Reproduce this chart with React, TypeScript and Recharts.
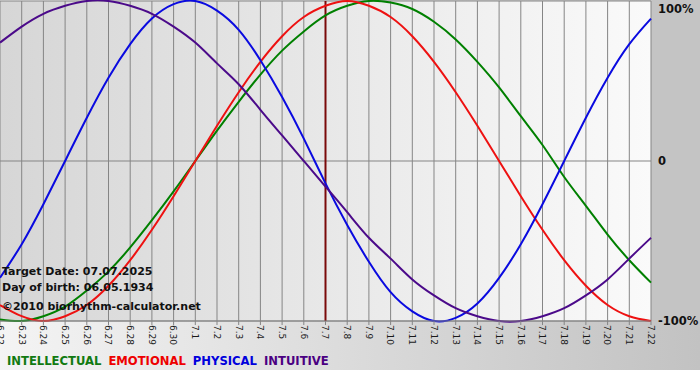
import React from "react";
import { LineChart, Line, XAxis, YAxis, CartesianGrid, ReferenceLine } from "recharts";

const days = ["6.22","6.23","6.24","6.25","6.26","6.27","6.28","6.29","6.30","7.1","7.2","7.3","7.4","7.5","7.6","7.7","7.8","7.9","7.10","7.11","7.12","7.13","7.14","7.15","7.16","7.17","7.18","7.19","7.20","7.21","7.22"];
const intellectual = [-99,-100,-97,-91,-81,-69,-54,-37,-19,0,19,37,54,69,81,91,97,100,99,95,87,76,62,46,28,10,-10,-28,-46,-62,-76];
const emotional = [-90,-97,-100,-97,-90,-78,-62,-43,-22,0,22,43,62,78,90,97,100,97,90,78,62,43,22,0,-22,-43,-62,-78,-90,-97,-100];
const physical = [-73,-52,-27,0,27,52,73,89,98,100,94,82,63,40,14,-14,-40,-63,-82,-94,-100,-98,-89,-73,-52,-27,0,27,52,73,89];
const intuitive = [74,84,92,97,100,100,97,92,84,74,61,48,32,16,0,-16,-32,-48,-61,-74,-84,-92,-97,-100,-100,-97,-92,-84,-74,-61,-48];
const yTicks = [-100, 0, 100];
const yTickLabels: Record<number, string> = { 100: "100%", 0: "0", [-100]: "-100%" };
const targetDay = "7.7";
const infoLines = ["Target Date: 07.07.2025", "Day of birth: 06.05.1934"];
const copyright = "©2010 biorhythm-calculator.net";

const series = [
  { key: "intellectual", name: "INTELLECTUAL", color: "#008000", legend: "#117a11" },
  { key: "emotional", name: "EMOTIONAL", color: "#ee1111", legend: "#ee0000" },
  { key: "physical", name: "PHYSICAL", color: "#0a0ae0", legend: "#0000dd" },
  { key: "intuitive", name: "INTUITIVE", color: "#4b0a8a", legend: "#4b0082" },
];

const data = days.map((d, i) => ({
  day: d,
  intellectual: intellectual[i],
  emotional: emotional[i],
  physical: physical[i],
  intuitive: intuitive[i],
}));

const FONT = "'DejaVu Sans', Verdana, sans-serif";

const XTick = (props: any) => {
  const { x, y, payload } = props;
  return (
    <g transform={`translate(${x},${y})`}>
      <text transform="rotate(90)" x={0} y={0} dy="0.35em" textAnchor="start"
        fontFamily={FONT} fontSize={9} fill="#1a1a1a">{payload.value}</text>
    </g>
  );
};

const YTick = (props: any) => {
  const { x, y, payload } = props;
  const yy = Math.max(y, 8);
  return (
    <text x={x} y={yy} dy="0.36em" textAnchor="start" fontFamily={FONT}
      fontWeight="bold" fontSize={11.5} fill="#111">{yTickLabels[payload.value]}</text>
  );
};

export default function App() {
  return (
    <div style={{ position: "absolute", left: 0, top: 0, width: 700, height: 370,
      background: "linear-gradient(to right, #f4f4f4, #c2c2c2)" }}>
      <div style={{ position: "absolute", left: 651, top: 0, width: 49, height: 321, background: "#c4c4c4" }} />
      <div style={{ position: "absolute", left: 0, top: 0 }}>
        <LineChart width={700} height={370} data={data}
          margin={{ top: 1, right: 0, left: 0, bottom: 0 }}>
          <defs>
            <linearGradient id="plotBg" x1="0" y1="0" x2="1" y2="0">
              <stop offset="0%" stopColor="#d6d6d6" />
              <stop offset="100%" stopColor="#fafafa" />
            </linearGradient>
          </defs>
          <CartesianGrid stroke="#858585" strokeWidth={1} fill="url(#plotBg)" fillOpacity={1} />
          <XAxis dataKey="day" interval={0} height={49} tick={<XTick />}
            tickSize={4} tickMargin={0} stroke="#858585" tickLine={{ stroke: "#858585" }} />
          <YAxis orientation="right" domain={[-100, 100]} ticks={yTicks} width={49}
            axisLine={false} tickLine={false} tickSize={0} tickMargin={7} tick={<YTick />} />
          <ReferenceLine x={targetDay} stroke="#7a0a0a" strokeWidth={2} />
          {series.map((s) => (
            <Line key={s.key} dataKey={s.key} type="natural" stroke={s.color}
              strokeWidth={2} dot={false} isAnimationActive={false} />
          ))}
        </LineChart>
      </div>
      <div style={{ position: "absolute", left: 2, top: 264, fontFamily: FONT, fontWeight: "bold",
        fontSize: 11, color: "#111", lineHeight: "16px", whiteSpace: "nowrap" }}>
        {infoLines.map((l) => <div key={l}>{l}</div>)}
        <div style={{ marginTop: 3 }}>{copyright}</div>
      </div>
      <div style={{ position: "absolute", left: 7, top: 352, fontFamily: FONT, fontWeight: "bold",
        fontSize: 11.6, whiteSpace: "nowrap", lineHeight: "18px" }}>
        {series.map((s) => (
          <span key={s.key} style={{ color: s.legend, marginRight: 7 }}>{s.name}</span>
        ))}
      </div>
    </div>
  );
}
